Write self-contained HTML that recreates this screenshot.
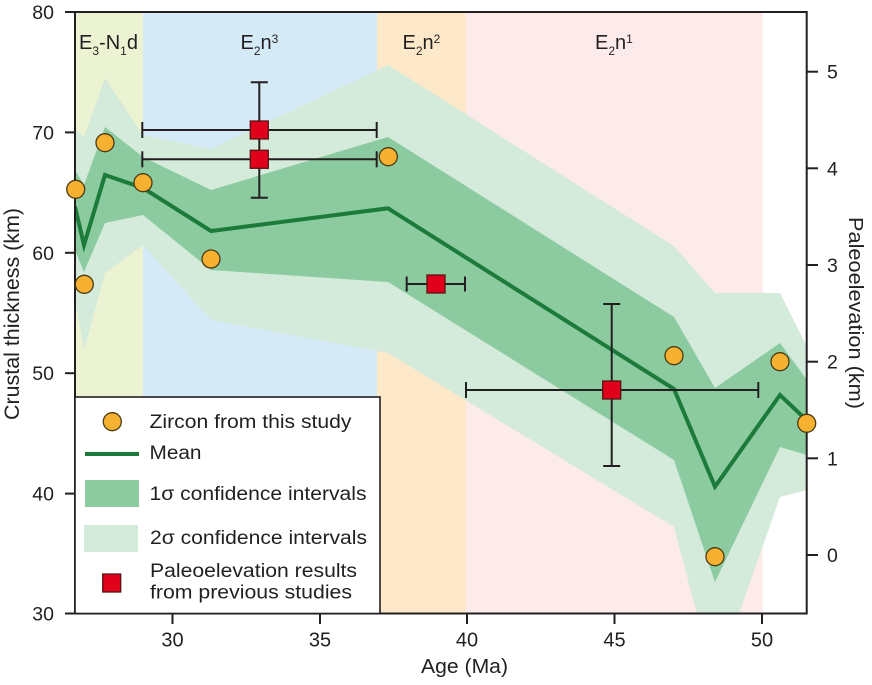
<!DOCTYPE html>
<html>
<head>
<meta charset="utf-8">
<style>
  html,body{margin:0;padding:0;background:#fff;}
  svg{display:block;}
  text{font-family:"Liberation Sans", Arial, sans-serif; fill:#231f20;}
</style>
</head>
<body>
<svg width="872" height="685" viewBox="0 0 872 685" xmlns="http://www.w3.org/2000/svg">
  <defs>
    <clipPath id="plot">
      <rect x="75" y="12" width="731.7" height="601.5"/>
    </clipPath>
  </defs>

  <!-- stratigraphic background bands -->
  <rect x="75" y="12" width="68" height="602" fill="#ecf3d2"/>
  <rect x="143" y="12" width="234" height="602" fill="#d4eaf6"/>
  <rect x="377" y="12" width="89" height="602" fill="#fde9c9"/>
  <rect x="466" y="12" width="296.5" height="602" fill="#fdeaea"/>

  <g clip-path="url(#plot)">
    <!-- 2 sigma -->
    <polygon fill="#d4eadb" points="75,128 84,137 105,78 143,135 211,149 388,65 674,246 715,293 780,293 807,347 807,490 780,497 715,682 674,527 388,353 211,320 143,245 105,273 84,350 75,300"/>
    <!-- 1 sigma -->
    <polygon fill="#8ccb9f" points="75,170 84,185 105,127 143,157 211,190 388,137 674,317 715,388 780,343 807,380 807,455 780,447 715,582 674,460 388,282 211,270 143,215 105,223 84,272 75,250"/>
    <!-- mean -->
    <polyline fill="none" stroke="#1c7a3a" stroke-width="4" stroke-linejoin="miter" points="75,206.7 84,245 105,175 143,188 211,231 388,208.3 674,389 715,486.7 780,395 807,420.5"/>
  </g>

  <!-- axes frame -->
  <rect x="75" y="12" width="731.7" height="601.5" fill="none" stroke="#231f20" stroke-width="2"/>
  <g stroke="#231f20" stroke-width="2">
    <line x1="65" y1="12" x2="75" y2="12"/>
    <line x1="65" y1="132.4" x2="75" y2="132.4"/>
    <line x1="65" y1="252.8" x2="75" y2="252.8"/>
    <line x1="65" y1="373.2" x2="75" y2="373.2"/>
    <line x1="65" y1="493.6" x2="75" y2="493.6"/>
    <line x1="65" y1="613.5" x2="75" y2="613.5"/>
    <line x1="172.5" y1="613.5" x2="172.5" y2="624"/>
    <line x1="320" y1="613.5" x2="320" y2="624"/>
    <line x1="467" y1="613.5" x2="467" y2="624"/>
    <line x1="614.5" y1="613.5" x2="614.5" y2="624"/>
    <line x1="762" y1="613.5" x2="762" y2="624"/>
    <line x1="806.7" y1="71.7" x2="818" y2="71.7"/>
    <line x1="806.7" y1="168.3" x2="818" y2="168.3"/>
    <line x1="806.7" y1="265" x2="818" y2="265"/>
    <line x1="806.7" y1="361.7" x2="818" y2="361.7"/>
    <line x1="806.7" y1="458.3" x2="818" y2="458.3"/>
    <line x1="806.7" y1="555" x2="818" y2="555"/>
  </g>

  <g font-size="19.5" text-anchor="end">
    <text x="54" y="19">80</text>
    <text x="54" y="139.4">70</text>
    <text x="54" y="259.8">60</text>
    <text x="54" y="380.2">50</text>
    <text x="54" y="500.6">40</text>
    <text x="54" y="620.5">30</text>
  </g>
  <g font-size="20" text-anchor="middle">
    <text x="172.5" y="646.5">30</text>
    <text x="320" y="646.5">35</text>
    <text x="467" y="646.5">40</text>
    <text x="614.5" y="646.5">45</text>
    <text x="762" y="646.5">50</text>
  </g>
  <g font-size="19.5" text-anchor="start">
    <text x="827" y="78.7">5</text>
    <text x="827" y="175.3">4</text>
    <text x="827" y="272">3</text>
    <text x="827" y="368.7">2</text>
    <text x="827" y="465.3">1</text>
    <text x="827" y="562">0</text>
  </g>

  <!-- axis titles -->
  <text font-size="21" text-anchor="middle" transform="translate(19,314) rotate(-90)" textLength="212" lengthAdjust="spacingAndGlyphs">Crustal thickness (km)</text>
  <text font-size="20" text-anchor="middle" transform="translate(849,313) rotate(90)" textLength="192" lengthAdjust="spacingAndGlyphs">Paleoelevation (km)</text>
  <text x="421" y="673" font-size="20" textLength="87" lengthAdjust="spacingAndGlyphs">Age (Ma)</text>

  <!-- stratigraphic labels -->
  <text x="79" y="49" font-size="20">E<tspan font-size="12" dy="6">3</tspan><tspan dy="-6">-N</tspan><tspan font-size="12" dy="6">1</tspan><tspan dy="-6">d</tspan></text>
  <text x="240.5" y="49" font-size="20">E<tspan font-size="12" dy="6">2</tspan><tspan dy="-6">n</tspan><tspan font-size="12" dy="-6">3</tspan></text>
  <text x="402.5" y="49" font-size="20">E<tspan font-size="12" dy="6">2</tspan><tspan dy="-6">n</tspan><tspan font-size="12" dy="-6">2</tspan></text>
  <text x="595" y="49" font-size="20">E<tspan font-size="12" dy="6">2</tspan><tspan dy="-6">n</tspan><tspan font-size="12" dy="-6">1</tspan></text>

  <!-- error bars -->
  <g stroke="#231f20" stroke-width="2" fill="none">
    <line x1="259.3" y1="82.3" x2="259.3" y2="197.7"/>
    <line x1="250.8" y1="82.3" x2="267.8" y2="82.3"/>
    <line x1="250.8" y1="197.7" x2="267.8" y2="197.7"/>
    <line x1="142.3" y1="130" x2="376.7" y2="130"/>
    <line x1="142.3" y1="122" x2="142.3" y2="138"/>
    <line x1="376.7" y1="122" x2="376.7" y2="138"/>
    <line x1="142.3" y1="159.3" x2="376.7" y2="159.3"/>
    <line x1="142.3" y1="151.3" x2="142.3" y2="167.3"/>
    <line x1="376.7" y1="151.3" x2="376.7" y2="167.3"/>
    <line x1="406.7" y1="284" x2="465" y2="284"/>
    <line x1="406.7" y1="276.5" x2="406.7" y2="291.5"/>
    <line x1="465" y1="276.5" x2="465" y2="291.5"/>
    <line x1="611.7" y1="304" x2="611.7" y2="466"/>
    <line x1="603.2" y1="304" x2="620.2" y2="304"/>
    <line x1="603.2" y1="466" x2="620.2" y2="466"/>
    <line x1="466" y1="390" x2="758.3" y2="390"/>
    <line x1="466" y1="382" x2="466" y2="398"/>
    <line x1="758.3" y1="382" x2="758.3" y2="398"/>
  </g>

  <g fill="#e0001b" stroke="#5a1414" stroke-width="1.3">
    <rect x="250.3" y="121" width="18" height="18"/>
    <rect x="250.3" y="150.3" width="18" height="18"/>
    <rect x="427" y="275" width="18" height="18"/>
    <rect x="602.7" y="381" width="18" height="18"/>
  </g>

  <g fill="#f6b131" stroke="#4a3a12" stroke-width="1.3">
    <circle cx="75.7" cy="189.3" r="9"/>
    <circle cx="105" cy="142.7" r="9"/>
    <circle cx="84.3" cy="284.3" r="9"/>
    <circle cx="143" cy="182.7" r="9"/>
    <circle cx="211" cy="259" r="9"/>
    <circle cx="388.3" cy="156.7" r="9"/>
    <circle cx="674" cy="355.7" r="9"/>
    <circle cx="715" cy="556.7" r="9"/>
    <circle cx="780" cy="361.7" r="9"/>
    <circle cx="806.7" cy="423.3" r="9"/>
  </g>

  <!-- legend -->
  <rect x="75" y="397" width="305" height="216.5" fill="#fff" stroke="#231f20" stroke-width="1.6"/>
  <circle cx="112.3" cy="421.7" r="9" fill="#f6b131" stroke="#4a3a12" stroke-width="1.3"/>
  <line x1="85" y1="454" x2="139" y2="454" stroke="#1c7a3a" stroke-width="4"/>
  <rect x="85" y="480" width="54" height="27" fill="#8ccb9f"/>
  <rect x="84" y="525" width="54" height="27" fill="#d4eadb"/>
  <rect x="102.7" y="574" width="18" height="18" fill="#e0001b" stroke="#5a1414" stroke-width="1.3"/>
  <g font-size="19">
    <text x="149.5" y="428" textLength="202" lengthAdjust="spacingAndGlyphs">Zircon from this study</text>
    <text x="149.5" y="459" textLength="52" lengthAdjust="spacingAndGlyphs">Mean</text>
    <text x="149.5" y="500" textLength="217" lengthAdjust="spacingAndGlyphs">1σ confidence intervals</text>
    <text x="150" y="544" textLength="217" lengthAdjust="spacingAndGlyphs">2σ confidence intervals</text>
    <text x="150" y="577" textLength="207" lengthAdjust="spacingAndGlyphs">Paleoelevation results</text>
    <text x="150" y="598.5" textLength="202" lengthAdjust="spacingAndGlyphs">from previous studies</text>
  </g>
</svg>
</body>
</html>
